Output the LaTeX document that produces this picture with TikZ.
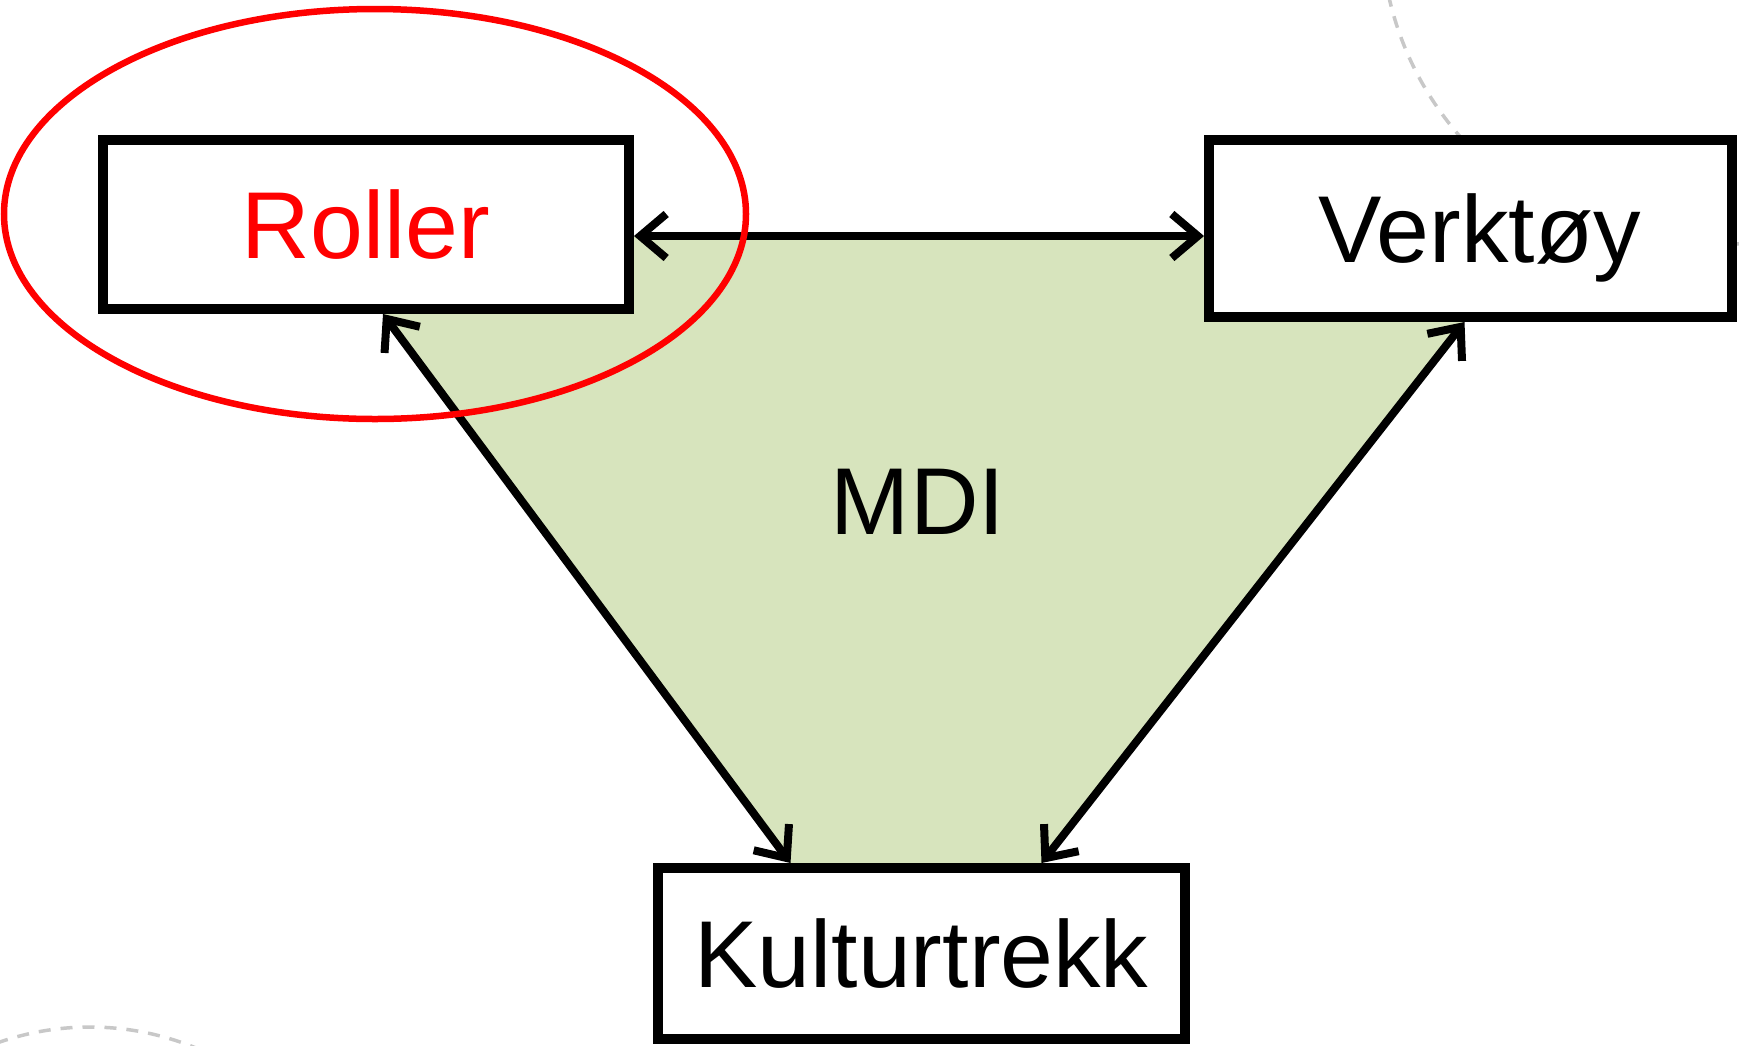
\documentclass[tikz,border=0pt]{standalone}
\usepackage{fontspec}
\setmainfont{Liberation Sans}
\usetikzlibrary{arrows.meta}
\definecolor{mdigreen}{HTML}{D7E4BD}
\definecolor{decogray}{HTML}{C8C8C8}
\begin{document}
\begin{tikzpicture}[x=1pt,y=-1pt,
  label/.style={inner sep=0pt,text height=68pt,text depth=0pt,font=\fontsize{95}{110}\selectfont},
  box/.style={label,draw=black,line width=10pt,fill=white},
  link/.style={line width=8pt,
    {Straight Barb[length=26pt,width=44pt]}-{Straight Barb[length=26pt,width=44pt]}},
  deco/.style={draw=decogray,line width=3.5pt,dash pattern=on 12pt off 10pt},
  redring/.style={draw=red,line width=6.5pt}]
\useasboundingbox (0,0) rectangle (1739,1045);
\clip (0,0) rectangle (1739,1045);
% decorative dashed circles
\draw[deco] (1701,-74) circle[radius=320];
\draw[deco] (90,1304) circle[radius=277];
% green area
\fill[mdigreen] (325,236) -- (1531,236) -- (1042,863) -- (790,863) -- cycle;
% boxes
\node[box,minimum width=526pt,minimum height=169pt] (roller) at (366,224.5) {\color{red}Roller};
\node[box,minimum width=523pt,minimum height=177pt] (verktoy) at (1470.5,228.5) {\hspace*{18pt}Verktøy};
\node[box,minimum width=527pt,minimum height=171pt] (kultur) at (921.5,953.5) {Kulturtrekk};
\node[label] (mdi) at (918,500) {MDI};
% connectors
\draw[link] ([yshift=-11.5pt]roller.east) -- ([yshift=-7.5pt]verktoy.west);
\draw[link] ([xshift=17pt]roller.south) -- ([xshift=-131pt]kultur.north);
\draw[link] ([xshift=-6pt]verktoy.south) -- ([xshift=120pt]kultur.north);
% red ellipse
\draw[redring] (375,214) ellipse[x radius=371,y radius=205];
\end{tikzpicture}
\end{document}
